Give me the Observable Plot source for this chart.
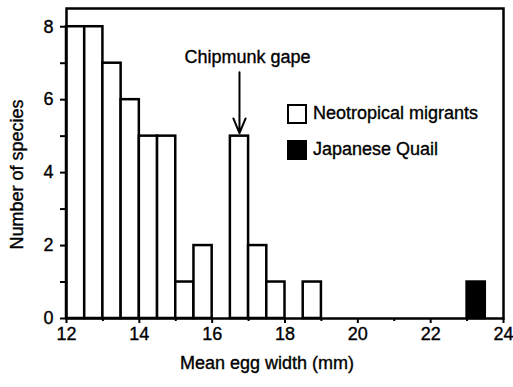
<!DOCTYPE html>
<html>
<head>
<meta charset="utf-8">
<script src="https://cdn.jsdelivr.net/npm/d3@7"></script>
<script src="https://cdn.jsdelivr.net/npm/@observablehq/plot@0.6"></script>
<style>
  html, body { margin: 0; padding: 0; background: #fff; }
  #wrap { position: relative; width: 513px; height: 387px; font-family: "Liberation Sans", Arial, sans-serif; }
  #wrap svg text { stroke: #000; stroke-width: 0.35px; }
  .leg { position: absolute; left: 287px; font-size: 18px; color: #000; display: flex; align-items: center; white-space: nowrap; -webkit-text-stroke: 0.35px #000; }
  .sw { width: 16px; height: 16px; border: 2px solid #000; margin-right: 6px; box-sizing: content-box; }
</style>
</head>
<body>
<div id="wrap"></div>
<script>
// Bin edges (mm) and counts — Neotropical migrants
const binStart = [12, 12.5, 13, 13.5, 14, 14.5, 15, 15.5, 16.5, 17, 17.5, 18.5];
const counts   = [8, 8, 7, 6, 5, 5, 1, 2, 5, 2, 1, 1];
const binWidth = 0.5;
// Japanese Quail
const quailStart = [23];
const quailCounts = [1];
// Axis ticks
const xMajor = [12, 14, 16, 18, 20, 22, 24];
const xMinor = [13, 15, 17, 19, 21, 23];
const yMajor = [0, 2, 4, 6, 8];
const yMinor = [1, 3, 5, 7];
// Annotation
const gapeX = [16.75];
const gapeArrowFrom = [6.75];
const gapeArrowTo = [5.08];
const gapeLabel = ["Chipmunk gape"];
const gapeLabelX = [16.97];
const gapeLabelY = [7.0];
const legendLabels = ["Neotropical migrants", "Japanese Quail"];

const migrants = binStart.map((s, i) => ({x1: s, x2: s + binWidth, y: counts[i]}));
const quail = quailStart.map((s, i) => ({x1: s, x2: s + binWidth, y: quailCounts[i]}));

const font = '"Liberation Sans", Arial, sans-serif';
const chart = Plot.plot({
  width: 513,
  height: 387,
  marginLeft: 66,
  marginRight: 10,
  marginTop: 8,
  marginBottom: 69,
  style: {fontSize: "18px", fontFamily: font, color: "#000", background: "#fff"},
  x: {domain: [12, 24]},
  y: {domain: [0, 8.5]},
  marks: [
    Plot.rectY(migrants, {x1: "x1", x2: "x2", y: "y", fill: "white", stroke: "black", strokeWidth: 2.5}),
    Plot.rectY(quail, {x1: "x1", x2: "x2", y: "y", fill: "black", stroke: "black", strokeWidth: 2.5}),
    Plot.frame({stroke: "black", strokeWidth: 2.5}),
    Plot.axisX({ticks: xMajor, tickSize: 5, tickPadding: 4, tickFormat: d => String(d), label: null, strokeWidth: 2}),
    Plot.axisX({ticks: xMinor, tickSize: 3, tickFormat: () => "", label: null, strokeWidth: 2}),
    Plot.axisY({ticks: yMajor, tickSize: 6, tickPadding: 7, tickFormat: d => String(d), label: null, strokeWidth: 2}),
    Plot.axisY({ticks: yMinor, tickSize: 6, tickFormat: () => "", label: null, strokeWidth: 2}),
    Plot.arrow(gapeX.map((x, i) => ({x, y1: gapeArrowFrom[i], y2: gapeArrowTo[i]})),
      {x1: "x", x2: "x", y1: "y1", y2: "y2", stroke: "black", strokeWidth: 2, headLength: 12, headAngle: 45}),
    Plot.text(gapeLabel.map((t, i) => ({t, x: gapeLabelX[i], y: gapeLabelY[i]})),
      {x: "x", y: "y", text: "t", lineAnchor: "bottom", fill: "black", fontSize: 18}),
    Plot.text(["Number of species"], {frameAnchor: "left", textAnchor: "middle", rotate: -90, dx: -49, dy: 11, fill: "black", fontSize: 18}),
    Plot.text(["Mean egg width (mm)"], {frameAnchor: "bottom", lineAnchor: "bottom", dx: -18, dy: 50, fill: "black", fontSize: 18})
  ]
});
const wrap = document.getElementById("wrap");
wrap.appendChild(chart);

const legTops = [103, 139];
const legFills = ["#fff", "#000"];
legendLabels.forEach((lab, i) => {
  const d = document.createElement("div");
  d.className = "leg";
  d.style.top = legTops[i] + "px";
  const sw = document.createElement("span");
  sw.className = "sw";
  sw.style.background = legFills[i];
  d.appendChild(sw);
  d.appendChild(document.createTextNode(lab));
  wrap.appendChild(d);
});
</script>
</body>
</html>
